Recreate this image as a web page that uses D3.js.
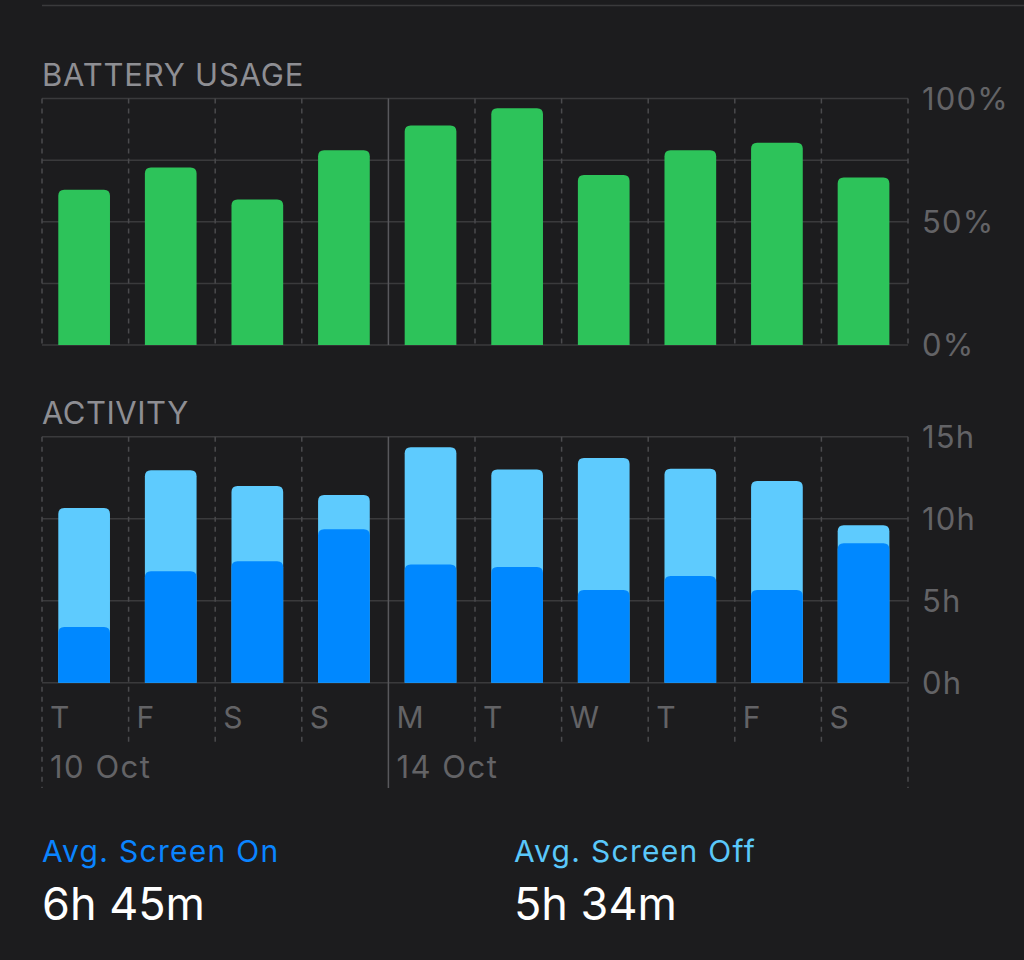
<!DOCTYPE html>
<html>
<head>
<meta charset="utf-8">
<script src="https://cdn.jsdelivr.net/npm/d3@7"></script>
<style>
  html, body { margin: 0; padding: 0; background: #1c1c1e; }
  svg { display: block; }
  text { font-family: "Inter", "Roboto", sans-serif; }
</style>
</head>
<body>
<svg id="chart" width="1024" height="960"></svg>
<script>
// ---- data ----
const days = ["T", "F", "S", "S", "M", "T", "W", "T", "F", "S"];
const dateLabelIndex = [0, 4];
const dateLabelText = ["10 Oct", "14 Oct"];
const battery = [63, 72, 59, 79, 89, 96, 69, 79, 82, 68];
const screenOn = [3.4, 6.8, 7.4, 9.35, 7.2, 7.05, 5.65, 6.5, 5.65, 8.5];
const screenOff = [7.25, 6.15, 4.6, 2.1, 7.15, 5.95, 8.05, 6.55, 6.65, 1.1];
const batteryGrid = [0, 25, 50, 75, 100];
const batteryTickValues = [0, 50, 100];
const batteryTickLabels = ["0%", "50%", "100%"];
const activityTickValues = [0, 5, 10, 15];
const activityTickLabels = ["0h", "5h", "10h", "15h"];
const summaryTitles = ["Avg. Screen On", "Avg. Screen Off"];
const summaryValues = ["6h 45m", "5h 34m"];

// ---- styles ----
const C = {
  bg: "#1c1c1e", grid: "#3a3a3c", vdash: "#4a4a4d", vsolid: "#58585c",
  title: "#8e8e93", tick: "#636366", green: "#2dc35a",
  light: "#5ecbfe", dark: "#0088ff", onText: "#0a84ff", offText: "#5ac8fa"
};

const svg = d3.select("#chart");
svg.append("rect").attr("width", 1024).attr("height", 960).attr("fill", C.bg);

const x = d3.scaleBand().domain(d3.range(days.length)).range([42, 908]).padding(0);
const bw = x.bandwidth();
const barOff = bw * 0.188, barW = bw * 0.597;
const yB = d3.scaleLinear().domain([0, 100]).range([345, 98.5]);
const yA = d3.scaleLinear().domain([0, 15]).range([682.7, 436.7]);

function topRounded(x0, y0, w, h, r) {
  r = Math.min(r, h, w / 2);
  return `M${x0},${y0 + h}V${y0 + r}Q${x0},${y0} ${x0 + r},${y0}H${x0 + w - r}Q${x0 + w},${y0} ${x0 + w},${y0 + r}V${y0 + h}Z`;
}

// top separator
svg.append("line").attr("x1", 42).attr("x2", 1024).attr("y1", 5.5).attr("y2", 5.5)
  .attr("stroke", C.grid).attr("stroke-width", 1.5);

// titles
svg.append("text").attr("x", 42).attr("y", 86).attr("fill", C.title)
  .attr("font-size", 31).attr("letter-spacing", 0.8).text("BATTERY USAGE");
svg.append("text").attr("x", 42).attr("y", 424).attr("fill", C.title)
  .attr("font-size", 31).attr("letter-spacing", 0.5).text("ACTIVITY");

const boundaries = d3.range(days.length + 1);
const bx = i => i < days.length ? x(i) : x.range()[1];

// ---- battery chart ----
const gB = svg.append("g");
gB.selectAll("line.h").data(batteryGrid).join("line")
  .attr("x1", 42).attr("x2", 908).attr("y1", d => yB(d)).attr("y2", d => yB(d))
  .attr("stroke", C.grid).attr("stroke-width", 1.5);
gB.selectAll("line.v").data(boundaries).join("line")
  .attr("x1", bx).attr("x2", bx).attr("y1", yB(100)).attr("y2", yB(0))
  .attr("stroke", i => i === 4 ? C.vsolid : C.vdash)
  .attr("stroke-width", 1.5)
  .attr("stroke-dasharray", i => i === 4 ? null : "5,5");
gB.selectAll("path").data(battery).join("path")
  .attr("d", (d, i) => topRounded(x(i) + barOff, yB(d), barW, yB(0) - yB(d), 6))
  .attr("fill", C.green);
gB.selectAll("text").data(batteryTickValues).join("text")
  .attr("x", 922).attr("y", d => yB(d)).attr("dy", "0.36em")
  .attr("fill", C.tick).attr("font-size", 31).attr("letter-spacing", 1.2)
  .text((d, i) => batteryTickLabels[i]);

// ---- activity chart ----
const gA = svg.append("g");
gA.selectAll("line.h").data(activityTickValues).join("line")
  .attr("x1", 42).attr("x2", 908).attr("y1", d => yA(d)).attr("y2", d => yA(d))
  .attr("stroke", C.grid).attr("stroke-width", 1.5);
gA.selectAll("line.v").data(boundaries).join("line")
  .attr("x1", bx).attr("x2", bx).attr("y1", yA(15))
  .attr("y2", i => (i === 0 || i === 4 || i === days.length) ? 788 : 743)
  .attr("stroke", i => i === 4 ? C.vsolid : C.vdash)
  .attr("stroke-width", 1.5)
  .attr("stroke-dasharray", i => i === 4 ? null : "5,5");
const totals = screenOn.map((d, i) => d + screenOff[i]);
gA.selectAll("path.tot").data(totals).join("path")
  .attr("d", (d, i) => topRounded(x(i) + barOff, yA(d), barW, yA(0) - yA(d), 6))
  .attr("fill", C.light);
gA.selectAll("path.on").data(screenOn).join("path")
  .attr("d", (d, i) => topRounded(x(i) + barOff, yA(d), barW, yA(0) - yA(d), 6))
  .attr("fill", C.dark);
gA.selectAll("text.tick").data(activityTickValues).join("text")
  .attr("x", 922).attr("y", d => yA(d)).attr("dy", "0.36em")
  .attr("fill", C.tick).attr("font-size", 31).attr("letter-spacing", 1.2)
  .text((d, i) => activityTickLabels[i]);

// day labels
svg.selectAll("text.day").data(days).join("text")
  .attr("x", (d, i) => x(i) + 8).attr("y", 717).attr("dy", "0.36em")
  .attr("fill", C.tick).attr("font-size", 30).text(d => d);
svg.selectAll("text.date").data(dateLabelIndex).join("text")
  .attr("x", d => x(d) + 8).attr("y", 767).attr("dy", "0.36em")
  .attr("fill", C.tick).attr("font-size", 31).attr("letter-spacing", 1.5)
  .text((d, i) => dateLabelText[i]);

// ---- summary ----
const sx = [42, 514];
svg.selectAll("text.st").data(summaryTitles).join("text")
  .attr("x", (d, i) => sx[i]).attr("y", 862)
  .attr("fill", (d, i) => i === 0 ? C.onText : C.offText)
  .attr("font-size", 30).attr("letter-spacing", 1.3).text(d => d);
svg.selectAll("text.sv").data(summaryValues).join("text")
  .attr("x", (d, i) => sx[i]).attr("y", 920)
  .attr("fill", "#ffffff").attr("font-size", 45).text(d => d);
</script>
</body>
</html>
